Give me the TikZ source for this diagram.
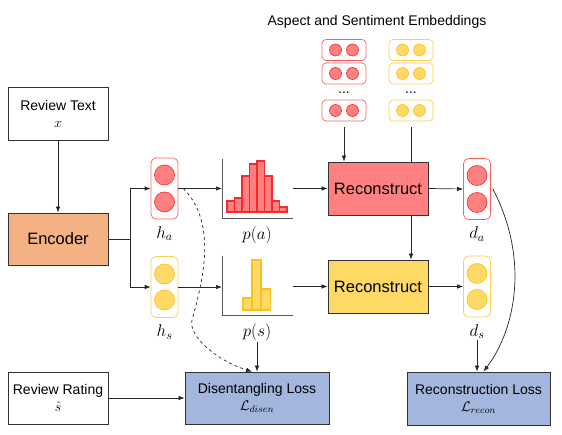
\RequirePackage{fix-cm}
\documentclass[tikz,border=0pt]{standalone}
\usepackage{fontspec}
\setmainfont{Liberation Sans}
\usepackage{amsmath}
\usetikzlibrary{positioning, arrows.meta}

\definecolor{encfill}{HTML}{F4B183}
\definecolor{aspfill}{HTML}{FF8080}
\definecolor{aspline}{HTML}{F52A2A}
\definecolor{senfill}{HTML}{FFD966}
\definecolor{senline}{HTML}{FFBE1A}
\definecolor{lossfill}{HTML}{A3B6DD}

\begin{document}
\begin{tikzpicture}[
    x=1pt, y=-1pt,
    font=\fontsize{14}{17}\selectfont,
    block/.style={rectangle, draw=black!80, line width=0.8pt, minimum width=100pt, minimum height=53pt, align=center, inner sep=2pt},
    big/.style={font=\fontsize{16.5}{20}\selectfont},
    vecA/.style={rectangle, rounded corners=5pt, draw=aspline!75, line width=0.7pt, minimum width=27pt, minimum height=61pt,
        path picture={\draw[aspline, fill=aspfill, line width=0.6pt] ([yshift=13.5pt]path picture bounding box.center) circle[radius=10pt] ([yshift=-13.5pt]path picture bounding box.center) circle[radius=10pt];}},
    vecS/.style={rectangle, rounded corners=5pt, draw=senline!75, line width=0.7pt, minimum width=27pt, minimum height=61pt,
        path picture={\draw[senline, fill=senfill, line width=0.6pt] ([yshift=13pt]path picture bounding box.center) circle[radius=10pt] ([yshift=-13pt]path picture bounding box.center) circle[radius=10pt];}},
    embA/.style={rectangle, rounded corners=4pt, draw=aspline!75, line width=0.7pt, minimum width=44pt, minimum height=21pt,
        path picture={\draw[aspline, fill=aspfill, line width=0.6pt] ([xshift=-8.5pt]path picture bounding box.center) circle[radius=6pt] ([xshift=8.5pt]path picture bounding box.center) circle[radius=6pt];}},
    embS/.style={rectangle, rounded corners=4pt, draw=senline!75, line width=0.7pt, minimum width=44pt, minimum height=21pt,
        path picture={\draw[senline, fill=senfill, line width=0.6pt] ([xshift=-8.5pt]path picture bounding box.center) circle[radius=6pt] ([xshift=8.5pt]path picture bounding box.center) circle[radius=6pt];}},
    lab/.style={inner sep=1pt, font=\fontsize{17}{20}\selectfont},
    axis/.style={draw=black!65, line width=0.8pt},
    barA/.style={draw=aspline, fill=aspfill, line width=1.1pt},
    barS/.style={draw=senline, fill=senfill, line width=1.1pt},
    line/.style={-, line width=0.7pt, black!85},
    arrow/.style={-{Latex[length=6pt,width=4.5pt]}, line width=0.7pt, black!85}
]
    \useasboundingbox (0,0) rectangle (562,435);

    % Inputs and encoder
    \node[block] (text) at (58,113.5) {Review Text\\$x$};
    \node[block, big, fill=encfill, minimum height=52pt] (enc) at (58,239) {Encoder};
    \node[block, minimum height=52pt] (rating) at (58,398) {Review Rating\\$\hat{s}$};

    % Hidden vectors
    \node[vecA] (ha) at (164.5,188.5) {};
    \node[vecS] (hs) at (164.5,287) {};
    \node[lab, below=6pt of ha] (hal) {$h_a$};
    \node[lab, below=6pt of hs] (hsl) {$h_s$};

    % Distributions
    \coordinate (pa) at (222,218);
    \coordinate (paend) at (293,218);
    \draw[axis] (222,159) -- (pa) -- (paend);
    \draw[barA] (227,212) rectangle (234.5,201) (234.5,212) rectangle (242,198)
        (242,212) rectangle (249.5,176) (249.5,212) rectangle (257,164)
        (257,212) rectangle (264.5,161) (264.5,212) rectangle (272,176)
        (272,212) rectangle (279.5,201) (279.5,212) rectangle (287,207);
    \node[lab] (pal) at (257,235) {$p(a)$};

    \coordinate (ps) at (222,315);
    \coordinate (psend) at (293,315);
    \draw[axis] (222,256) -- (ps) -- (psend);
    \draw[barS] (243,310) rectangle (252,298) (252,310) rectangle (261,260)
        (261,310) rectangle (270.5,289);
    \node[lab] (psl) at (257,332) {$p(s)$};

    % Embeddings
    \node (embt) at (377,22) {Aspect and Sentiment Embeddings};
    \node[embA] (ea1) at (344,50) {};
    \node[embA] (ea2) at (344,73.5) {};
    \node[inner sep=1pt] (ead) at (344,93) {...};
    \node[embA] (ea3) at (344,110.5) {};
    \node[embS] (es1) at (411,50) {};
    \node[embS] (es2) at (411,73.5) {};
    \node[inner sep=1pt] (esd) at (411,93) {...};
    \node[embS] (es3) at (411,110.5) {};

    % Decoders
    \node[block, big, fill=aspfill] (recA) at (378,188.5) {Reconstruct};
    \node[block, big, fill=senfill] (recS) at (378,286.5) {Reconstruct};
    \node[vecA] (da) at (477,189) {};
    \node[vecS] (ds) at (477,286.5) {};
    \node[lab, below=6pt of da] (dal) {$d_a$};
    \node[lab, below=6pt of ds] (dsl) {$d_s$};

    % Losses
    \node[block, fill=lossfill, minimum width=144pt, minimum height=52pt] (disen) at (257,398) {Disentangling Loss\\$\mathcal{L}_{disen}$};
    \node[block, fill=lossfill, minimum width=143pt, minimum height=53pt] (recon) at (478.5,398.5) {Reconstruction Loss\\$\mathcal{L}_{recon}$};

    % Connections
    \coordinate (split) at (130,239);
    \draw[arrow] (text.south) -- (enc.north);
    \draw[arrow] (enc.east) -- (split) |- (ha.west);
    \draw[arrow] (split) |- (hs.west);
    \draw[arrow] (ha.east) -- (ha.east -| pa);
    \draw[arrow] (hs.east) -- (hs.east -| ps);
    \draw[arrow] (recA.west -| paend) -- (recA.west);
    \draw[arrow] (recS.west -| psend) -- (recS.west);
    \draw[arrow] ([yshift=-6pt]ea3.south) -- (ea3.south |- recA.north);
    \draw[line] ([yshift=-6pt]es3.south) -- (es3.south |- recA.north);
    \draw[arrow] (recA.south -| es3.south) -- (recS.north -| es3.south);
    \draw[arrow] (recA.east) -- (da.west);
    \draw[arrow] (recS.east) -- (ds.west);
    \draw[arrow] (rating.east) -- (disen.west);
    \draw[arrow] (psl.south) -- (disen.north);
    \draw[arrow, dash pattern=on 3pt off 3pt] ([xshift=5pt]ha.east) .. controls (220,225) and (200,290) .. (192,320)
        .. controls (188,335) and (215,360) .. ([xshift=-5pt]disen.north);
    \draw[arrow] (dsl.south) -- (dsl.south |- recon.north);
    \draw[arrow] ([xshift=2pt]da.east) .. controls (530,260) and (515,330) .. ([xshift=5pt]recon.north);

\end{tikzpicture}
\end{document}
